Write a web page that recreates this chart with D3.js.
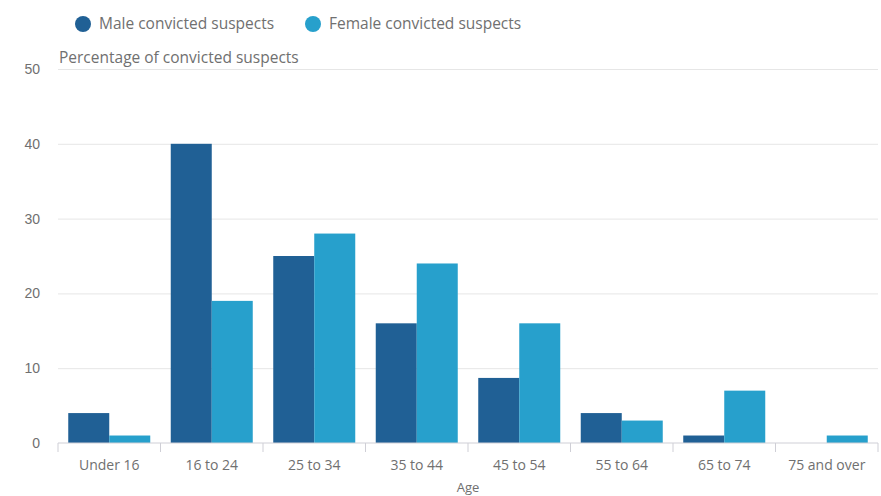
<!DOCTYPE html>
<html>
<head>
<meta charset="utf-8">
<script src="https://cdn.jsdelivr.net/npm/d3@7"></script>
<style>
	body { margin: 0; background: #fff; font-family: "Open Sans", sans-serif; }
	.y-axis text, .x-axis text { fill: #707070; font-size: 14px; }
	.y-axis .domain { display: none; }
	.y-axis line { stroke: #e6e6e6; }
	.x-axis .domain, .x-axis line { stroke: #cfcfd6; }
</style>
</head>
<body>
<div id="chart"></div>
<script>

var categories = ['Under 16', '16 to 24', '25 to 34', '35 to 44', '45 to 54', '55 to 64', '65 to 74', '75 and over'];
var seriesNames = ['Male convicted suspects', 'Female convicted suspects'];
var maleValues = [4, 40, 25, 16, 8.7, 4, 1, 0];
var femaleValues = [1, 19, 28, 24, 16, 3, 7, 1];
var yTicks = [0, 10, 20, 30, 40, 50];
var colors = ['#206095', '#27a0cc'];

var chart = {
	width: 820,
	height: 374,
	margin: { left: 58, top: 69 }
};

var svg = d3.select('#chart')
	.append('svg')
	.attr('width', 881)
	.attr('height', 496);

var g = svg.append('g')
	.attr('transform', 'translate(' + chart.margin.left + ',' + chart.margin.top + ')');

var xScale = d3.scaleBand()
	.domain(categories)
	.range([0, chart.width])
	.paddingInner(0.2)
	.paddingOuter(0.1);

var xBand = d3.scaleBand()
	.domain(categories)
	.range([0, chart.width]);

var xSub = d3.scaleBand()
	.domain([0, 1])
	.range([0, xScale.bandwidth()]);

var yScale = d3.scaleLinear()
	.domain([0, 50])
	.range([chart.height, 0]);

// grid lines via axis ticks
g.append('g')
	.attr('class', 'y-axis')
	.call(d3.axisLeft(yScale)
		.tickValues(yTicks)
		.tickSize(-chart.width)
		.tickPadding(18))
	.selectAll('text')
	.attr('dy', '0.32em');

g.select('.y-axis').selectAll('.tick')
	.filter(function (d) { return d === 0; })
	.select('line').remove();

var data = categories.map(function (c, i) {
	return { cat: c, vals: [maleValues[i], femaleValues[i]] };
});

var groups = g.selectAll('.group')
	.data(data)
	.enter().append('g')
	.attr('class', 'group')
	.attr('transform', function (d) { return 'translate(' + xScale(d.cat) + ',0)'; });

groups.selectAll('rect')
	.data(function (d) { return d.vals; })
	.enter().append('rect')
	.attr('x', function (d, i) { return xSub(i); })
	.attr('width', xSub.bandwidth())
	.attr('y', function (d) { return yScale(d); })
	.attr('height', function (d) { return chart.height - yScale(d); })
	.attr('fill', function (d, i) { return colors[i]; });

// x axis with ticks at category boundaries
var xAxisG = g.append('g')
	.attr('class', 'x-axis')
	.attr('transform', 'translate(0,' + chart.height + ')');

xAxisG.append('line')
	.attr('x1', 0)
	.attr('x2', chart.width)
	.attr('stroke', '#cfcfd6');

var bounds = categories.map(function (c) { return xBand(c); }).concat([chart.width]);
xAxisG.selectAll('.tickline')
	.data(bounds)
	.enter().append('line')
	.attr('class', 'tickline')
	.attr('x1', function (d) { return d; })
	.attr('x2', function (d) { return d; })
	.attr('y1', 0)
	.attr('y2', 9)
	.attr('stroke', '#cfcfd6');

xAxisG.selectAll('.label')
	.data(categories)
	.enter().append('text')
	.attr('class', 'label')
	.attr('x', function (d) { return xBand(d) + xBand.bandwidth() / 2; })
	.attr('y', 27)
	.attr('text-anchor', 'middle')
	.text(function (d) { return d; });

g.append('text')
	.attr('x', chart.width / 2)
	.attr('y', chart.height + 49)
	.attr('text-anchor', 'middle')
	.attr('fill', '#707070')
	.style('font-size', '13px')
	.text('Age');

g.append('text')
	.attr('x', 1)
	.attr('y', -6)
	.attr('fill', '#707070')
	.style('font-size', '15.5px')
	.text('Percentage of convicted suspects');

// legend
var legend = svg.append('g')
	.attr('transform', 'translate(0,24)');

var legendX = [83, 313];
seriesNames.forEach(function (name, i) {
	legend.append('circle')
		.attr('cx', legendX[i])
		.attr('cy', 0)
		.attr('r', 8)
		.attr('fill', colors[i]);
	legend.append('text')
		.attr('x', legendX[i] + 16)
		.attr('y', 0)
		.attr('dy', '0.35em')
		.attr('fill', '#707070')
		.style('font-size', '15.5px')
		.text(name);
});

</script>
</body>
</html>
